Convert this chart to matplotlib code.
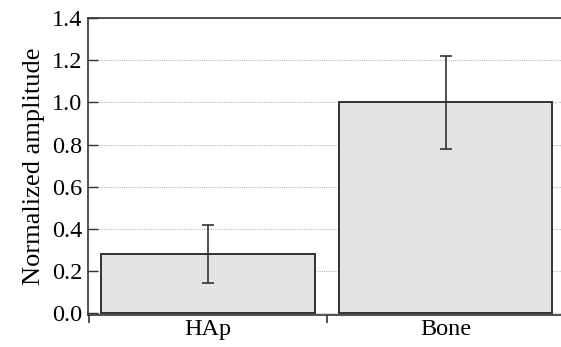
import matplotlib
matplotlib.use("Agg")
import matplotlib.pyplot as plt
import numpy as np

categories = ["HAp", "Bone"]
values = [0.28, 1.0]
errors = [0.14, 0.22]
yticks = [0.0, 0.2, 0.4, 0.6, 0.8, 1.0, 1.2, 1.4]

plt.rcParams['font.family'] = ['Liberation Serif', 'DejaVu Serif']

fig = plt.figure(figsize=(5.61, 3.47), dpi=100)
ax = fig.add_axes([0.1563, 0.0922, 0.8437, 0.855])

edge = '#333333'
x = np.arange(len(categories))
ax.bar(x, values, width=0.9, color='#e3e3e3', edgecolor=edge, linewidth=1.4, zorder=2)
ax.errorbar(x, values, yerr=errors, fmt='none', ecolor=edge, elinewidth=1.2,
            capsize=4, capthick=1.2, zorder=3)

ax.set_xlim(-0.506, 1.486)
ax.set_ylim(-0.01, 1.4)
ax.set_yticks(yticks)
ax.set_yticklabels([f"{v:.1f}" for v in yticks])
ax.yaxis.grid(True, linestyle=(0, (1, 1)), color='#bbbbbb', linewidth=0.8, zorder=0)
ax.set_axisbelow(True)

ax.set_xticks([-0.5, 0.5])
ax.set_xticklabels([])
ax.set_xticks(x, minor=True)
ax.set_xticklabels(categories, minor=True)
ax.tick_params(axis='x', which='major', direction='out', length=6, width=1.2, color=edge)
ax.tick_params(axis='x', which='minor', length=0, pad=3, labelsize=17.5)
ax.tick_params(axis='y', direction='in', length=7, width=1.0, color=edge, labelsize=17.5, pad=4)

ax.set_ylabel("Normalized amplitude", fontsize=19, labelpad=5)

for s in ['left', 'top', 'bottom']:
    ax.spines[s].set_color(edge)
    ax.spines[s].set_linewidth(1.2)
ax.spines['right'].set_visible(False)

fig.savefig("out.png", dpi=100)
